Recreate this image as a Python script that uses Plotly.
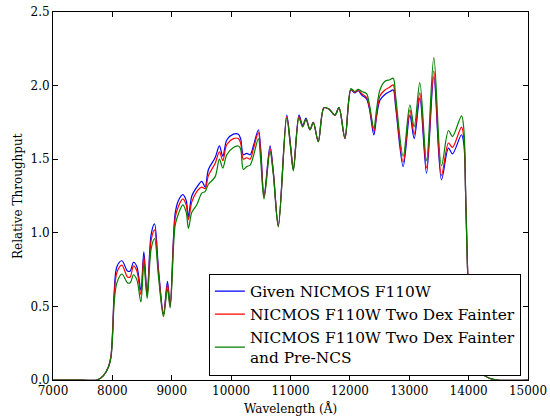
import plotly.graph_objects as go

wavelength = [7000, 7500, 7740, 7850, 7935, 7976, 8005, 8031, 8076, 8160, 8255, 8300, 8356, 8413,
              8480, 8530, 8586, 8653, 8710, 8777, 8861, 8928, 8973, 9057, 9113, 9187, 9243, 9281,
              9338, 9422, 9506, 9562, 9618, 9730, 9803, 9860, 9927, 10038, 10122, 10160, 10206,
              10263, 10319, 10375, 10459, 10500, 10554, 10655, 10710, 10795, 10936, 11000, 11048,
              11143, 11205, 11261, 11328, 11384, 11468, 11564, 11650, 11749, 11816, 11917, 12018,
              12080, 12141, 12200, 12281, 12330, 12404, 12450, 12506, 12590, 12674, 12730, 12770,
              12898, 13010, 13083, 13178, 13291, 13414, 13543, 13660, 13728, 13880, 13920, 13952,
              13991, 14040, 14100, 14216, 14350, 14500, 15000]

given = [0, 0, 0, 0.03, 0.09, 0.16, 0.34, 0.60, 0.77, 0.81, 0.74, 0.74, 0.80, 0.77,
         0.61, 0.87, 0.58, 0.99, 1.06, 0.75, 0.45, 0.67, 0.51, 1.13, 1.22, 1.26, 1.22, 1.11,
         1.25, 1.31, 1.35, 1.31, 1.43, 1.51, 1.59, 1.52, 1.63, 1.67, 1.67, 1.64, 1.53,
         1.54, 1.53, 1.59, 1.70, 1.56, 1.25, 1.59, 1.42, 1.05, 1.80, 1.60, 1.43,
         1.80, 1.73, 1.78, 1.70, 1.75, 1.62, 1.85, 1.84, 1.80, 1.85, 1.64, 1.97,
         1.95, 1.965, 1.935, 1.91, 1.84, 1.665, 1.79, 1.90, 1.94, 1.96, 1.97, 1.86,
         1.45, 1.80, 1.64, 1.915, 1.405, 2.06, 1.36, 1.575, 1.536, 1.666, 1.60, 1.22,
         0.65, 0.30, 0.12, 0.045, 0.012, 0.0, 0.0]

fainter = [0, 0, 0, 0.03, 0.09, 0.16, 0.33, 0.57, 0.73, 0.78, 0.70, 0.70, 0.775, 0.74,
           0.58, 0.84, 0.57, 0.95, 1.02, 0.73, 0.44, 0.65, 0.50, 1.10, 1.18, 1.23, 1.19, 1.09,
           1.21, 1.28, 1.31, 1.30, 1.39, 1.47, 1.55, 1.49, 1.60, 1.64, 1.64, 1.61, 1.50,
           1.51, 1.50, 1.57, 1.68, 1.53, 1.24, 1.57, 1.41, 1.045, 1.79, 1.59, 1.43,
           1.79, 1.72, 1.77, 1.70, 1.75, 1.62, 1.85, 1.84, 1.80, 1.85, 1.64, 1.975,
           1.955, 1.97, 1.945, 1.92, 1.85, 1.69, 1.80, 1.93, 1.97, 1.99, 2.005, 1.88,
           1.48, 1.835, 1.67, 1.95, 1.44, 2.10, 1.39, 1.61, 1.58, 1.718, 1.64, 1.22,
           0.65, 0.30, 0.12, 0.045, 0.012, 0.0, 0.0]

fainter_pre_ncs = [0, 0, 0, 0.03, 0.09, 0.15, 0.31, 0.53, 0.66, 0.72, 0.66, 0.66, 0.715, 0.68,
                   0.53, 0.79, 0.555, 0.89, 0.96, 0.70, 0.43, 0.62, 0.49, 1.05, 1.13, 1.19, 1.14, 1.03,
                   1.14, 1.19, 1.27, 1.28, 1.33, 1.38, 1.50, 1.44, 1.53, 1.58, 1.59, 1.57, 1.43,
                   1.45, 1.46, 1.52, 1.64, 1.48, 1.23, 1.55, 1.40, 1.04, 1.78, 1.58, 1.42,
                   1.78, 1.72, 1.77, 1.70, 1.75, 1.62, 1.85, 1.84, 1.80, 1.85, 1.645, 1.98,
                   1.96, 1.975, 1.96, 1.945, 1.87, 1.71, 1.84, 1.97, 2.03, 2.04, 2.05, 1.93,
                   1.52, 1.87, 1.72, 2.02, 1.49, 2.19, 1.455, 1.695, 1.654, 1.795, 1.70, 1.22,
                   0.65, 0.30, 0.12, 0.045, 0.012, 0.0, 0.0]

x_ticks = [7000, 8000, 9000, 10000, 11000, 12000, 13000, 14000, 15000]
y_ticks = [0.0, 0.5, 1.0, 1.5, 2.0, 2.5]

series = [
    ("Given NICMOS F110W", given, "#0000ff"),
    ("NICMOS F110W Two Dex Fainter", fainter, "#ff0000"),
    ("NICMOS F110W Two Dex Fainter<br>and Pre-NCS", fainter_pre_ncs, "#008000"),
]

fig = go.Figure()
for name, vals, col in series:
    fig.add_trace(go.Scatter(x=wavelength, y=vals, mode="lines", name=name,
                             line=dict(color=col, width=1.2, shape="spline", smoothing=0.9)))

font = "DejaVu Serif"
axis_common = dict(showline=True, linecolor="black", linewidth=1, mirror="ticks",
                   ticks="inside", ticklen=5, tickcolor="black", showgrid=False,
                   zeroline=False, automargin=False, ticklabeloverflow="allow",
                   tickfont=dict(family=font, size=12, color="black"))

fig.update_xaxes(range=[7000, 15000], tickvals=x_ticks, ticktext=[str(v) for v in x_ticks],
                 **axis_common)
fig.update_yaxes(range=[0, 2.5], tickvals=y_ticks, ticktext=[f"{v:.1f}" for v in y_ticks],
                 **axis_common)

title_font = dict(family=font, size=12, color="black")
fig.add_annotation(text="Wavelength (Å)", xref="paper", yref="paper", x=0.5, y=0,
                   xanchor="center", yanchor="middle", yshift=-28, showarrow=False,
                   font=title_font)
fig.add_annotation(text="Relative Throughput", xref="paper", yref="paper", x=0, y=0.5,
                   xanchor="center", yanchor="middle", xshift=-35, textangle=-90,
                   showarrow=False, font=title_font)

fig.update_layout(
    width=550, height=416,
    margin=dict(l=53, r=22, t=12, b=36),
    paper_bgcolor="white", plot_bgcolor="white",
    showlegend=True,
    legend=dict(x=0.985, y=0.012, xanchor="right", yanchor="bottom",
                bgcolor="white", bordercolor="black", borderwidth=1,
                font=dict(family=font, size=15.4, color="black"),
                tracegroupgap=0, itemwidth=30),
)

fig.write_html("out.html", config={"displayModeBar": False},
               post_script="document.body.style.margin='0';document.body.style.overflow='hidden';")
